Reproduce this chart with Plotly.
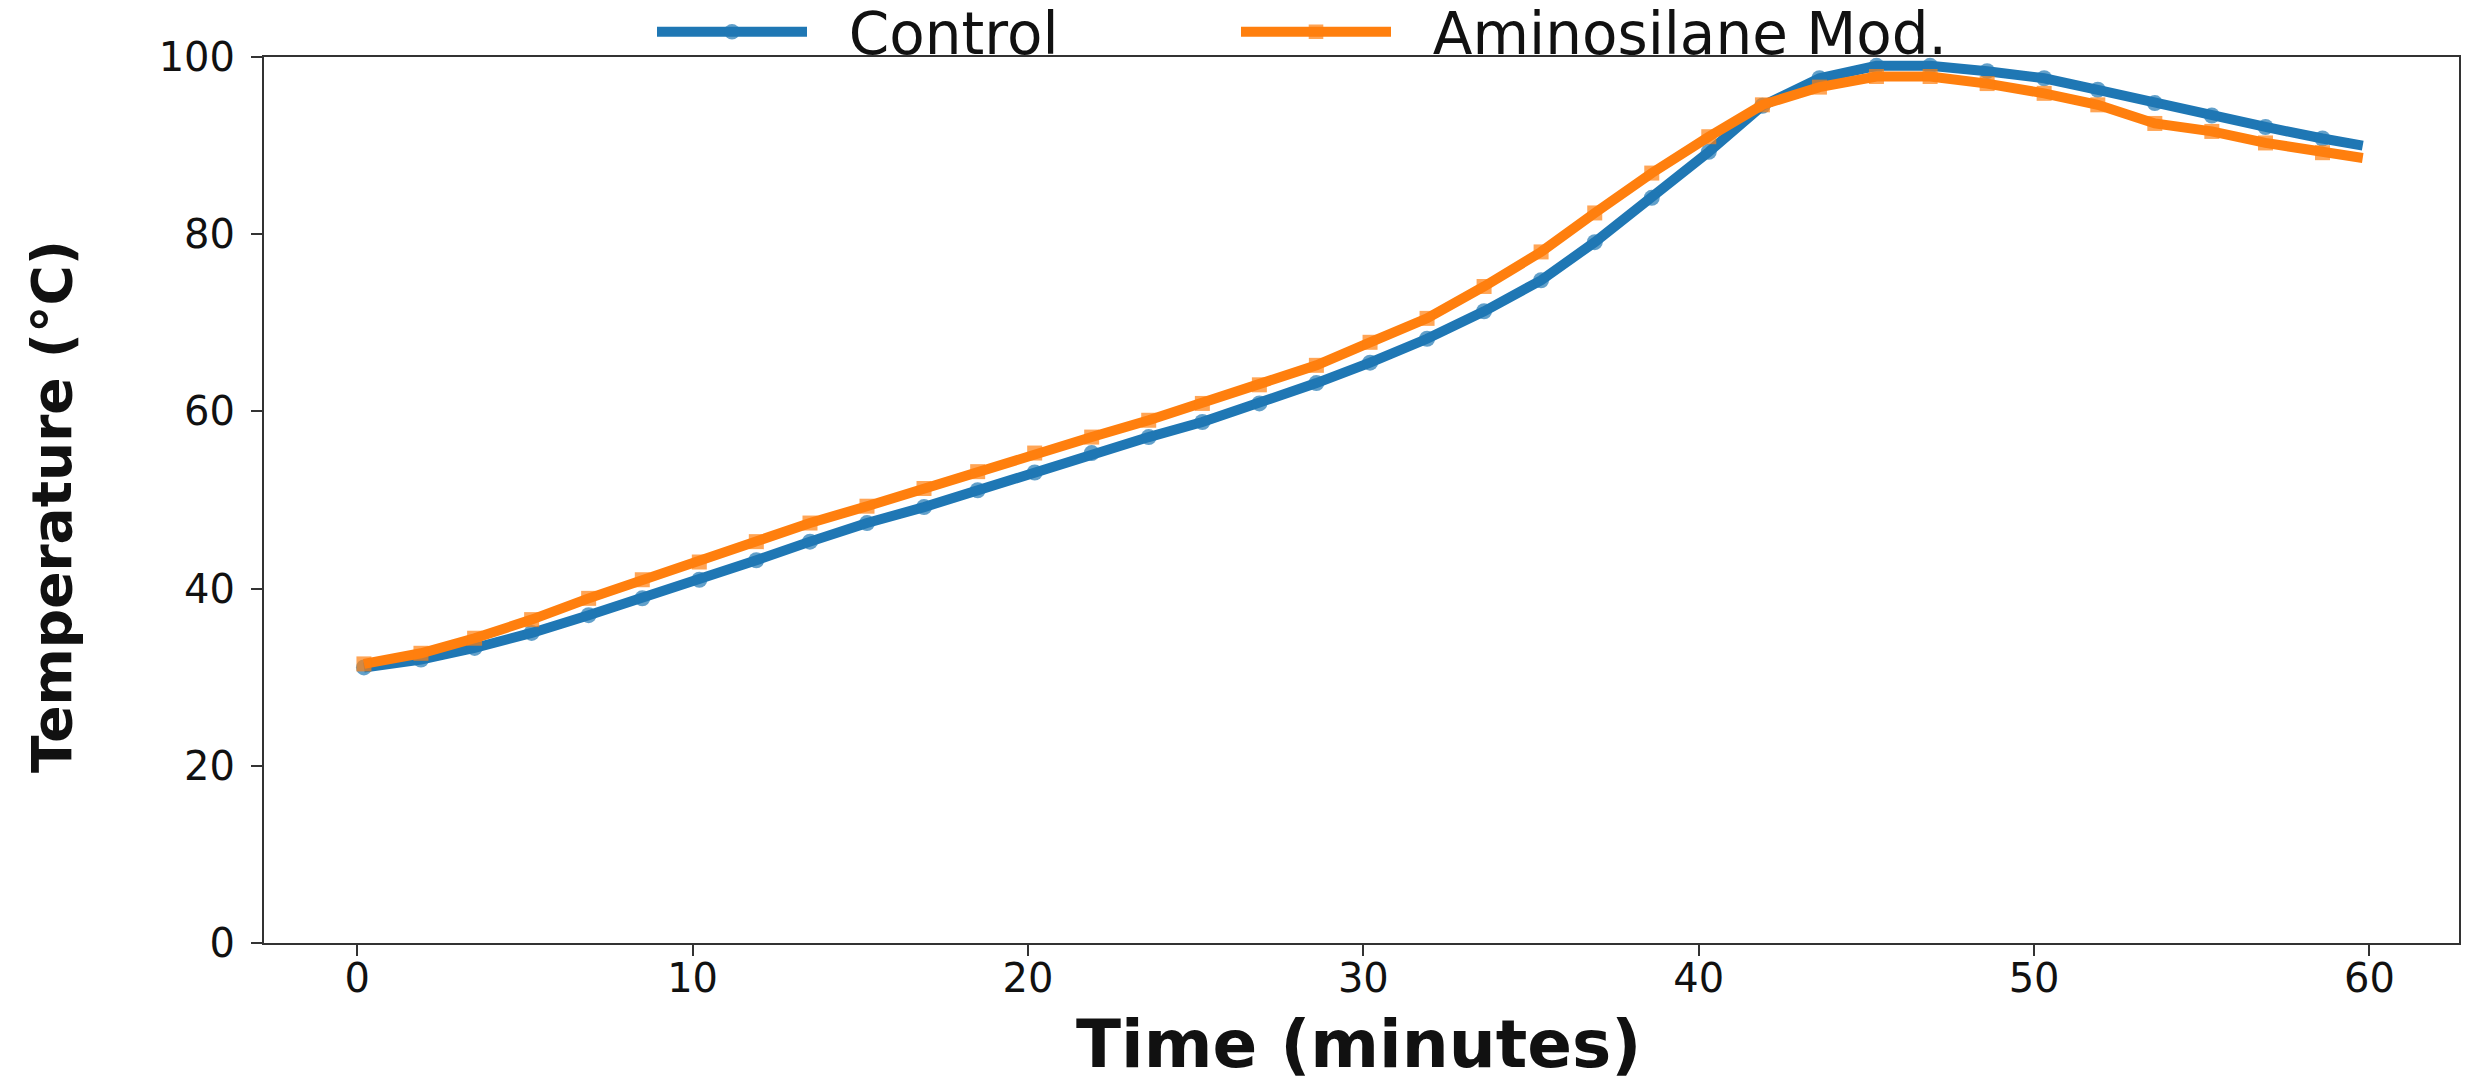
import plotly.graph_objects as go

time_min = [0.2, 1.9, 3.5, 5.2, 6.9, 8.5, 10.2, 11.9, 13.5, 15.2, 16.9, 18.5,
            20.2, 21.9, 23.6, 25.2, 26.9, 28.6, 30.2, 31.9, 33.6, 35.3, 36.9, 38.6,
            40.3, 41.9, 43.6, 45.3, 46.9, 48.6, 50.3, 51.9, 53.6, 55.3, 56.9, 58.6, 59.8]

control = [31.1, 32.0, 33.3, 35.0, 37.0, 38.9, 41.0, 43.2, 45.3, 47.4, 49.2, 51.1,
           53.1, 55.3, 57.1, 58.8, 60.9, 63.2, 65.5, 68.2, 71.3, 74.8, 79.1, 84.1,
           89.3, 94.5, 97.6, 99.0, 99.0, 98.4, 97.6, 96.3, 94.8, 93.4, 92.1, 90.8, 90.0]

aminosilane = [31.5, 32.7, 34.4, 36.5, 38.9, 41.0, 43.0, 45.3, 47.4, 49.3, 51.3, 53.2,
               55.3, 57.1, 59.0, 60.9, 63.0, 65.2, 67.8, 70.5, 74.1, 78.0, 82.4, 86.9,
               91.0, 94.6, 96.6, 97.8, 97.8, 97.0, 95.9, 94.6, 92.5, 91.6, 90.3, 89.2, 88.6]

series_names = ["Control", "Aminosilane Mod."]
x_ticks = [0, 10, 20, 30, 40, 50, 60]
y_ticks = [0, 20, 40, 60, 80, 100]

FONT = "DejaVu Sans"
W, H = 2465, 1082
ML, MR, MT, MB = 264, 6, 57, 139
PW, PH = W - ML - MR, H - MT - MB
n = len(time_min)
PAD = "\u00a0\u00a0"

def sizes(s):
    return [s] * (n - 1) + [0]

fig = go.Figure()
fig.add_trace(go.Scatter(
    x=time_min, y=control, name=PAD + series_names[0], mode="lines+markers",
    line=dict(color="#1f77b4", width=10),
    marker=dict(symbol="circle", size=sizes(16), color="#1f77b4", line=dict(width=0)),
    legend="legend", showlegend=True,
))
fig.add_trace(go.Scatter(
    x=time_min, y=aminosilane, name=PAD + series_names[1], mode="lines+markers",
    line=dict(color="#ff7f0e", width=10),
    marker=dict(symbol="square", size=sizes(15), color="#ff7f0e", line=dict(width=0)),
    legend="legend2", showlegend=True,
))

axis_common = dict(
    showline=True, linecolor="#333333", linewidth=2, mirror=True,
    ticks="outside", ticklen=11, tickwidth=2, tickcolor="#333333",
    showgrid=False, zeroline=False,
    tickfont=dict(family=FONT, size=40, color="#111111"),
)

fig.update_xaxes(range=[-2.78, 62.67], tickvals=x_ticks, ticklabelstandoff=-12, **axis_common)
fig.update_yaxes(range=[0, 100], tickvals=y_ticks, ticklabelstandoff=8, **axis_common)

fig.add_annotation(text="<b>Time (minutes)</b>", xref="paper", yref="paper",
                   x=(1358 - ML) / PW, y=(H - MB - 1044) / PH, xanchor="center",
                   yanchor="middle", showarrow=False,
                   font=dict(family=FONT, size=66, color="#111111"))
fig.add_annotation(text="<b>Temperature (°C)</b>", xref="paper", yref="paper",
                   x=(52 - ML) / PW, y=(H - MB - 507) / PH, xanchor="center",
                   yanchor="middle", textangle=-90, showarrow=False,
                   font=dict(family=FONT, size=55, color="#111111"))

leg_common = dict(orientation="h", xref="container", yref="container",
                  yanchor="middle", xanchor="left", y=1 - 32 / H,
                  font=dict(family=FONT, size=58, color="#111111"),
                  itemwidth=150, bgcolor="rgba(0,0,0,0)")

fig.update_layout(
    width=W, height=H,
    showlegend=True,
    margin=dict(l=ML, r=MR, t=MT, b=MB, autoexpand=False),
    plot_bgcolor="white", paper_bgcolor="white",
    font=dict(family=FONT),
    legend=dict(x=(656 - 4) / W, **leg_common),
    legend2=dict(x=(1243 - 7) / W, **leg_common),
)

fig.write_html("out.html", config={"displayModeBar": False},
               post_script="document.body.style.margin='0';")
